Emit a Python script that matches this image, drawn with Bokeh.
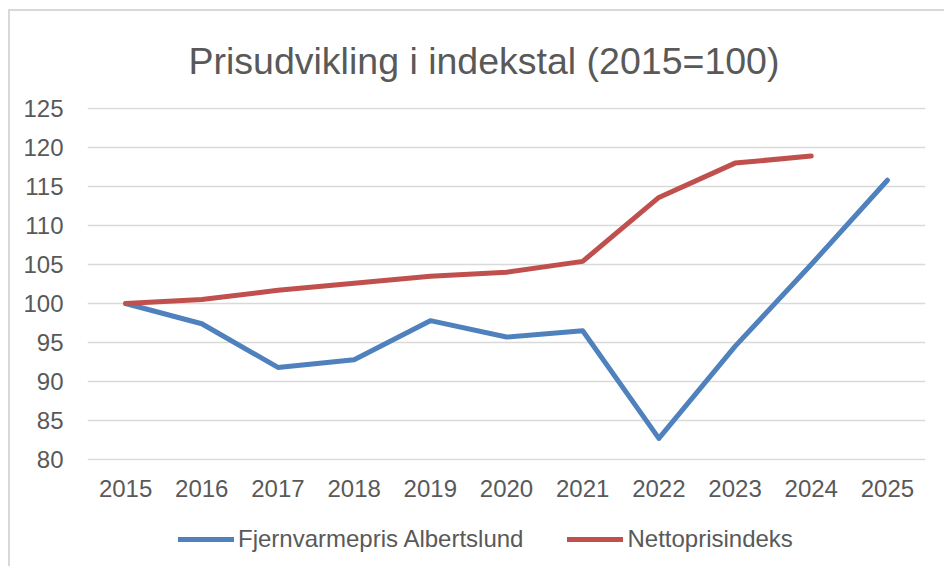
from bokeh.plotting import figure
from bokeh.models import FixedTicker, Legend, LegendItem, FactorRange, Range1d
from bokeh.layouts import column
from bokeh.embed import file_html
from bokeh.resources import INLINE

years = ["2015", "2016", "2017", "2018", "2019", "2020", "2021", "2022", "2023", "2024", "2025"]
fjernvarme = [100.0, 97.4, 91.8, 92.8, 97.8, 95.7, 96.5, 82.7, 94.5, 105.0, 115.8]
netto_years = ["2015", "2016", "2017", "2018", "2019", "2020", "2021", "2022", "2023", "2024"]
netto = [100.0, 100.5, 101.7, 102.6, 103.5, 104.0, 105.4, 113.6, 118.0, 118.9]
y_ticks = [80, 85, 90, 95, 100, 105, 110, 115, 120, 125]
series_names = ["Fjernvarmepris Albertslund", "Nettoprisindeks"]

TXT = "#595959"
FONT = "Liberation Sans"
BLUE = "#4f81bd"
RED = "#c0504d"

p = figure(width=934, height=509, x_range=FactorRange(*years, range_padding=0),
           y_range=Range1d(79.87, 125.13), output_backend="svg", toolbar_location=None,
           min_border_left=77, min_border_right=19, min_border_top=94, min_border_bottom=60)
p.outline_line_color = None
p.title.text = "Prisudvikling i indekstal (2015=100)"
p.title.text_font = FONT
p.title.text_font_size = "37.5px"
p.title.text_font_style = "normal"
p.title.text_color = TXT
p.title.align = "left"
p.title.standoff = 52
p.title.offset = 101

p.line(years, fjernvarme, line_color=BLUE, line_width=5, line_cap="round", line_join="round")
p.line(netto_years, netto, line_color=RED, line_width=5, line_cap="round", line_join="round")

p.yaxis.ticker = FixedTicker(ticks=y_ticks)
for ax in (p.xaxis[0], p.yaxis[0]):
    ax.axis_line_color = None
    ax.major_tick_line_color = None
    ax.minor_tick_line_color = None
    ax.major_label_text_font = FONT
    ax.major_label_text_font_size = "24px"
    ax.major_label_text_color = TXT
p.xaxis.major_label_standoff = 13
p.yaxis.major_label_standoff = 18
p.xgrid.grid_line_color = None
p.ygrid.grid_line_color = "#d9d9d9"
p.ygrid.grid_line_width = 1.5

# legend strip below the chart (proxy lines lie outside its visible range)
lg = figure(width=934, height=46, output_backend="svg", toolbar_location=None,
            x_range=Range1d(0, 1), y_range=Range1d(0, 1),
            min_border_left=77, min_border_right=19, min_border_top=0, min_border_bottom=0)
lg.axis.visible = False
lg.grid.visible = False
lg.outline_line_color = None
d1 = lg.line(list(range(len(fjernvarme))), fjernvarme, line_color=BLUE, line_width=5, line_cap="round")
d2 = lg.line(list(range(len(netto))), netto, line_color=RED, line_width=5, line_cap="round")
legend = Legend(items=[LegendItem(label=series_names[0], renderers=[d1]),
                       LegendItem(label=series_names[1], renderers=[d2])],
                orientation="horizontal", location=(91, 13), glyph_width=56, glyph_height=24,
                label_height=24, label_standoff=4, spacing=44, padding=0, margin=0,
                label_text_font=FONT, label_text_font_size="24px", label_text_color=TXT,
                border_line_color=None, background_fill_alpha=0)
lg.add_layout(legend, "center")

layout = column(p, lg, spacing=0,
                styles={"border-top": "2px solid #d9d9d9", "border-left": "2px solid #d9d9d9",
                        "margin-top": "9px", "margin-left": "8px"})
open("out.html", "w").write(file_html(layout, INLINE))
